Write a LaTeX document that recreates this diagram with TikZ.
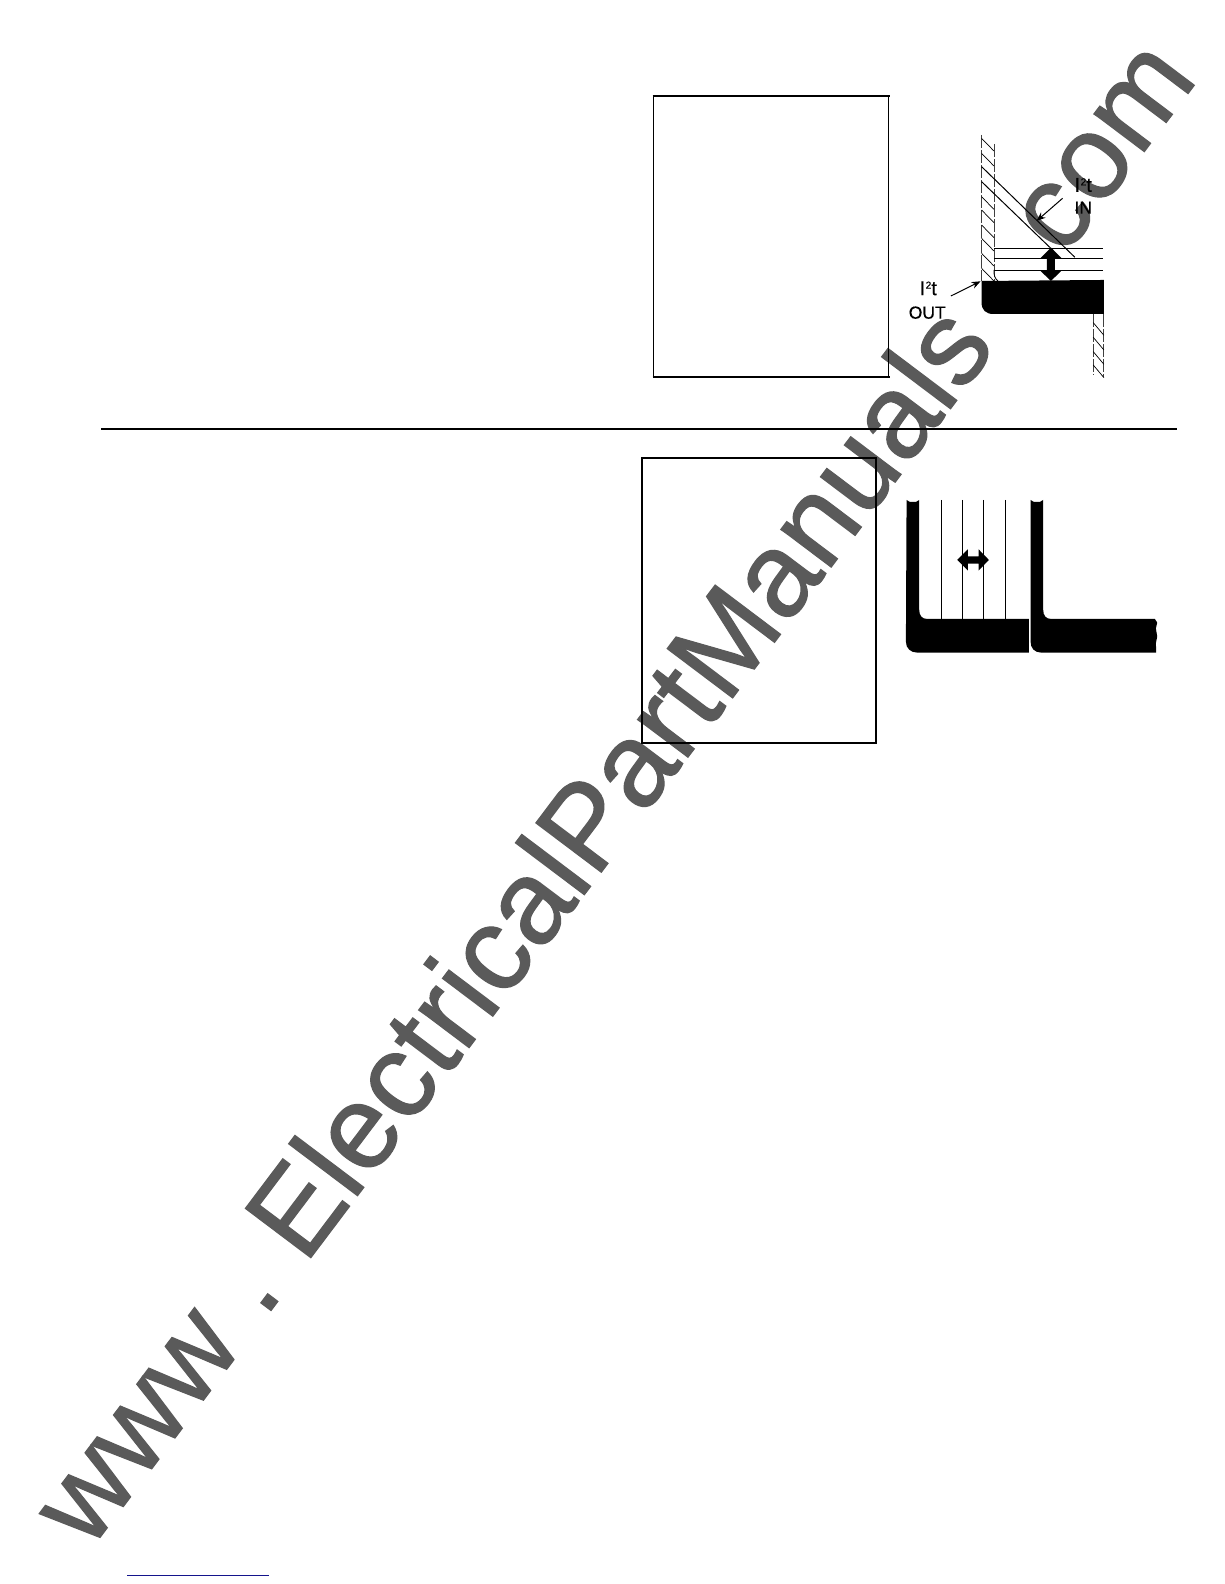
\documentclass[tikz,border=0pt]{standalone}
\usepackage{fontspec}
\setmainfont{Liberation Sans}
\newfontfamily\wmfont[FakeBold=1]{Liberation Sans}
\newfontfamily\lblfont[FakeBold=0.4]{Liberation Sans}
\usetikzlibrary{arrows.meta}
\definecolor{wmark}{RGB}{90,90,90}
\definecolor{linkblue}{RGB}{20,20,140}
\tikzset{
  watermark/.style={font=\wmfont\fontsize{119}{119}\selectfont, text=wmark, inner sep=0pt, anchor=base west, rotate=53},
  frame/.style={draw=black, line width=1.7pt},
  rulebar/.style={draw=black, line width=1.9pt},
  wall/.style={draw=black!75, line width=0.8pt, dash pattern=on 13pt off 2pt},
  hatchline/.style={draw=black, line width=0.7pt},
  thinline/.style={draw=black, line width=0.8pt},
  section/.style={fill=black, draw=none},
  pointer/.style={draw=black, line width=1pt, -{Stealth[length=9pt,width=7pt]}},
  figlabel/.style={font=\lblfont\fontsize{17.5}{17.5}\selectfont, inner sep=0pt, text=black}
}
\newcommand{\itsq}{\fontsize{20}{20}\selectfont I\kern0.5pt\raisebox{6.5pt}{\fontsize{10}{10}\selectfont 2}t}
\begin{document}
\begin{tikzpicture}[x=1pt,y=-1pt]
\useasboundingbox (0,0) rectangle (1224,1584);
\fill[white] (0,0) rectangle (1224,1584);
\node[watermark] (wm) at (89.4,1551.5) {www . \kern-10pt ElectricalPartManuals . com};
% frames and rule
\draw[frame,line width=1.3pt] (653.7,95.7) rectangle (888.7,377.3);
\draw[frame,line width=2pt] (652.7,95.7) -- (889.7,95.7);
\draw[frame,line width=2pt] (652.7,377.3) -- (889.7,377.3);
\draw[frame] (641.7,458) rectangle (875.7,742.7);
\draw[rulebar] (101,429) -- (1176.7,429);
\draw[draw=linkblue,line width=0.9pt] (127,1575) -- (269,1575);
% Figure 1: coordinates in zoomed units
\begin{scope}[x=0.3333pt,y=-0.3333pt,shift={(2640,360)}]
  \draw[wall] (305,45) -- (305,483);
  \draw[wall] (342,72) -- (342,483);
  \foreach \h in {55,100,230,270,315,355,400,445}
    \draw[hatchline] (305,\h) -- (342,\h+38);
  \draw[thinline,line width=1pt] (305,140) -- (585,412);
  \draw[thinline,line width=1pt] (305,185) -- (520,392);
  \draw[thinline] (342,384) -- (670,384);
  \draw[thinline] (342,415) -- (670,415);
  \draw[thinline] (342,450) -- (670,450);
  \draw[thinline] (342,450) .. controls (342,468) and (345,475) .. (354,483);
  \fill[section] (305,483) -- (672,480) -- (672,582) -- (340,582)
     .. controls (318,582) and (305,570) .. (305,548) -- cycle;
  \fill[section] (513,383) -- (545,415) -- (525,415) -- (525,452) -- (545,452) -- (513,483)
     -- (481,452) -- (501,452) -- (501,415) -- (481,415) -- cycle;
  \draw[wall] (640,582) -- (640,765);
  \draw[wall] (672,582) -- (672,770);
  \foreach \h in {608,652,695,735}
    \draw[hatchline] (640,\h) -- (672,\h+38);
  \node[figlabel] (inA) at (610,195) {\itsq};
  \node[figlabel] (inB) at (610,263) {IN};
  \node[figlabel] (outA) at (145,505) {\itsq};
  \node[figlabel] (outB) at (142,578) {OUT};
  \coordinate (inTip) at (470,303);
  \coordinate (inTail) at (548,235);
  \coordinate (outTip) at (302,484);
  \coordinate (outTail) at (213,528);
  \draw[pointer] (inTail) -- (inTip);
  \draw[pointer] (outTail) -- (outTip);
\end{scope}
% Figure 2
\begin{scope}[x=0.3333pt,y=-0.3333pt,shift={(2640,1440)}]
  \foreach \v in {183,247,311,376}
    \draw[thinline] (\v,60) -- (\v,417);
  \fill[section] (80,60) -- (90,66) -- (108,66) -- (118,60) -- (118,390)
     .. controls (118,407) and (126,417) .. (142,417) -- (447,417) -- (447,518) -- (112,518)
     .. controls (92,518) and (78,505) .. (78,485) -- cycle;
  \fill[section] (452,60) -- (462,66) -- (480,66) -- (490,60) -- (490,390)
     .. controls (490,407) and (498,417) .. (514,417) -- (825,417) -- (832,428) -- (828,445)
     -- (832,470) -- (828,490) -- (829,518) -- (484,518)
     .. controls (464,518) and (452,505) .. (452,485) -- cycle;
  \fill[section] (232,240) -- (264,208) -- (264,229) -- (296,229) -- (296,208) -- (327,240)
     -- (296,272) -- (296,251) -- (264,251) -- (264,272) -- cycle;
\end{scope}
\end{tikzpicture}
\end{document}
